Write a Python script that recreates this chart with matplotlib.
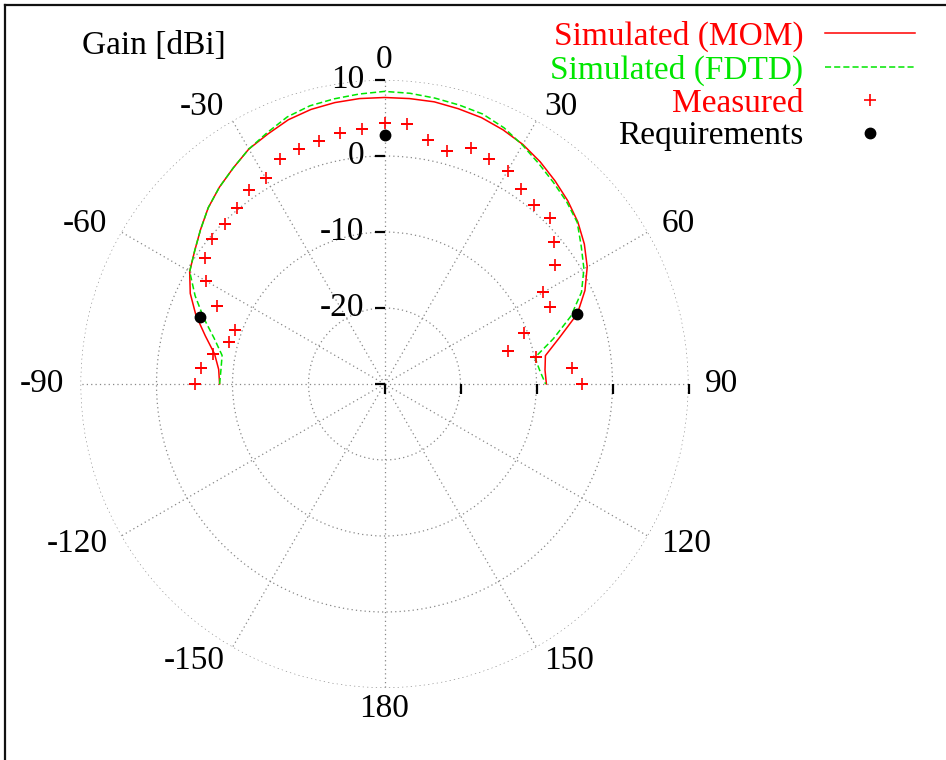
import numpy as np
import matplotlib
matplotlib.use("Agg")
from matplotlib import pyplot as plt
from matplotlib.lines import Line2D
from matplotlib.markers import TICKLEFT, TICKDOWN

plt.rcParams['font.family'] = ['Liberation Serif', 'DejaVu Serif']
plt.rcParams['font.size'] = 24

# angles in degrees, gain in dBi
angles = list(range(-90, 95, 5))
mom_db = [-8.3, -8.1, -7.3, -5.6, -3.6, -1.8, -0.4, 0.5, 1.6, 2.8,
          3.8, 4.7, 5.7, 6.3, 7.0, 7.4, 7.6, 7.7, 7.7, 7.7,
          7.7, 7.5, 7.3, 6.9, 6.4, 5.7, 4.9, 4.1, 3.2, 2.1,
          0.8, -0.9, -3.0, -6.1, -8.5, -8.8, -8.7]
fdtd_db = [-8.3, -8.4, -8.3, -6.8, -4.7, -2.5, -0.4, 0.5, 1.6, 2.8,
           3.8, 4.7, 5.7, 6.5, 7.4, 7.9, 8.1, 8.3, 8.5, 8.4,
           8.2, 8.0, 7.8, 7.2, 6.3, 5.4, 4.6, 3.9, 3.1, 1.6,
           0.3, -1.4, -3.9, -7.0, -9.9, -9.5, -8.8]
measured_db = [-5.0, -5.7, -7.1, -8.8, -9.1, -5.7, -2.9, -1.2, -0.4, -0.3,
               0.2, 1.1, 1.3, 2.6, 2.9, 3.1, 3.6, 3.7, 4.3, 4.4,
               2.6, 1.8, 3.1, 2.6, 2.4, 1.4, 0.7, 0.8, -0.9, -2.6,
               -5.9, -5.9, -10.4, -13.2, -9.8, -5.3, -4.0]
req_angles = [-70, 0, 70]
req_db = [-4.1, 2.8, -3.0]

r_min, r_max = -30, 10
r_grid = [-20, -10, 0, 10]
r_ticks = [-30, -20, -10, 0, 10]
theta_ticks = [0, 30, 60, 90, 120, 150, 180, -150, -120, -90, -60, -30]

red = '#ff0000'
green = '#00e600'

fig = plt.figure(figsize=(9.46, 7.6), dpi=100)
ax = fig.add_axes([80.5 / 946, 72 / 760, 608 / 946, 608 / 760], projection='polar')
ax.set_theta_zero_location('N')
ax.set_theta_direction(-1)
ax.set_ylim(r_min, r_max)
ax.set_rgrids(r_grid)
ax.set_thetagrids(range(0, 360, 30))
ax.set_xticklabels([])
ax.set_yticklabels([])
ax.tick_params(length=0)
ax.spines['polar'].set_visible(False)
ax.grid(True, color='#888888', linestyle=(0, (1, 2.5)), linewidth=0.9)

th = np.deg2rad(angles)
ax.plot(th, mom_db, color=red, lw=1.1, label='Simulated (MOM)')
ax.plot(th, fdtd_db, color=green, lw=1.1, dashes=(4, 2), label='Simulated (FDTD)')
ax.plot(th, measured_db, ls='none', marker='+', ms=8.5, mew=1.2, color=red,
        label='Measured')
ax.plot(np.deg2rad(req_angles), req_db, ls='none', marker='o', ms=7.5, color='black',
        label='Requirements')

# radial axis ticks (gnuplot style)
ax.plot(np.zeros(len(r_ticks)), r_ticks, ls='none', marker=TICKLEFT, ms=7.5,
        mew=1.6, color='black', clip_on=False)
ax.plot(np.full(len(r_ticks), np.pi / 2), r_ticks, ls='none', marker=TICKDOWN, ms=7.5,
        mew=1.6, color='black', clip_on=False)
for r in r_grid:
    ax.annotate(str(r), xy=(0, r), xytext=(-20, 0), textcoords='offset pixels',
                ha='right', va='center')

# angle labels
for t in theta_ticks:
    if t in (0, 180):
        ax.text(np.deg2rad(t), 12.7, str(t), ha='center', va='center')
    else:
        ax.text(np.deg2rad(t), 12.1, str(t), ha='left' if t > 0 else 'right',
                va='center')

fig.text(82 / 946, 1 - 46 / 760, 'Gain [dBi]', ha='left', va='center')

leg = fig.legend(loc='upper right', bbox_to_anchor=(915 / 946, 1 - 21 / 760),
                 frameon=False, markerfirst=False, handlelength=2.7,
                 handletextpad=0.65, labelspacing=0.07, borderpad=0,
                 borderaxespad=0, numpoints=1, labelcolor='linecolor')

# frame lines at top and left
fig.add_artist(Line2D([5 / 946, 1], [1 - 5 / 760, 1 - 5 / 760], color='#111111', lw=1.6,
                      transform=fig.transFigure))
fig.add_artist(Line2D([5 / 946, 5 / 946], [0, 1 - 5 / 760], color='#111111', lw=1.6,
                      transform=fig.transFigure))

fig.savefig('out.png', dpi=100)
